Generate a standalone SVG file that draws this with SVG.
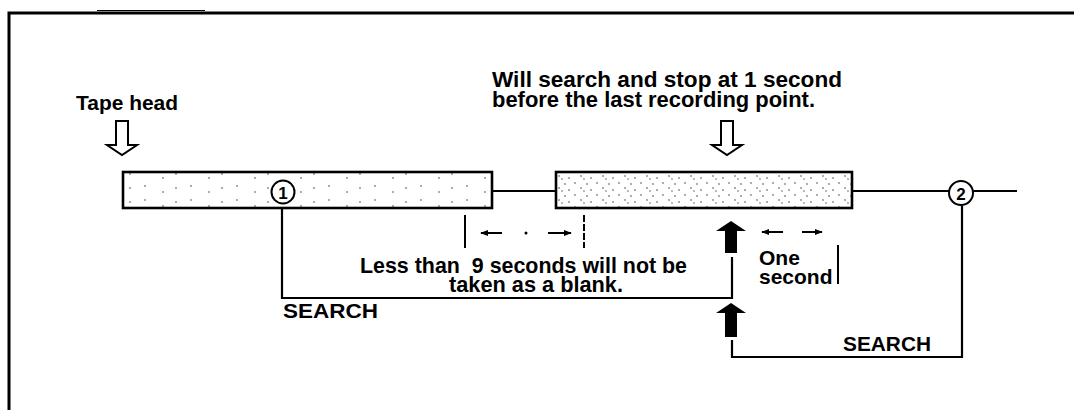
<svg xmlns="http://www.w3.org/2000/svg" width="1074" height="410" viewBox="0 0 1074 410">
  <style>
    .t { font-family: "Liberation Sans", Arial, sans-serif; font-weight: bold; fill: #000; }
    .ln { fill: none; stroke: #000; stroke-width: 2.2; }
    .box { stroke: #000; stroke-width: 2.6; }
    .hollow { fill: #fff; stroke: #000; stroke-width: 2; stroke-linejoin: miter; }
    .solid { fill: #000; stroke: none; }
    .dim { fill: none; stroke: #000; stroke-width: 2; }
  </style>
  <defs>
    <pattern id="dotsA" width="46" height="14" patternUnits="userSpaceOnUse">
      <rect width="46" height="14" fill="#fff"/>
      <circle cx="7" cy="4" r="0.8" fill="#444"/>
      <circle cx="25" cy="10" r="0.8" fill="#444"/>
      <circle cx="38" cy="6" r="0.8" fill="#444"/>
    </pattern>
    <pattern id="dotsB" width="22" height="12" patternUnits="userSpaceOnUse">
      <rect width="22" height="12" fill="#fff"/>
      <circle cx="3" cy="3" r="0.8" fill="#444"/>
      <circle cx="9" cy="8" r="0.8" fill="#444"/>
      <circle cx="15" cy="4" r="0.8" fill="#444"/>
      <circle cx="19" cy="10" r="0.8" fill="#444"/>
      <circle cx="12" cy="11" r="0.7" fill="#444"/>
    </pattern>
    <marker id="ah" viewBox="0 0 10 10" refX="9" refY="5" markerWidth="4" markerHeight="4" orient="auto-start-reverse" markerUnits="strokeWidth">
      <path d="M0,1 L10,5 L0,9 Z" fill="#000"/>
    </marker>
  </defs>

  <!-- frame -->
  <g id="frame">
    <path d="M9,410 V13 H1074" fill="none" stroke="#000" stroke-width="3"/>
    <path d="M97,10.5 H205" stroke="#000" stroke-width="1.2" fill="none"/>
  </g>

  <!-- labels at top -->
  <g id="tape-head">
    <text class="t" x="76" y="110" font-size="21" textLength="102" lengthAdjust="spacingAndGlyphs">Tape head</text>
    <path class="hollow" d="M116,121 H128 V145 H137 L122,155 L107,145 H116 Z"/>
  </g>
  <g id="stop-note">
    <text class="t" x="492" y="87" font-size="22" textLength="350" lengthAdjust="spacingAndGlyphs">Will search and stop at 1 second</text>
    <text class="t" x="492" y="107" font-size="22" textLength="323" lengthAdjust="spacingAndGlyphs">before the last recording point.</text>
    <path class="hollow" d="M721,121 H733 V145 H742 L727,155 L712,145 H721 Z"/>
  </g>

  <!-- connectors -->
  <g id="connectors">
    <path class="ln" d="M492,191 H556"/>
    <path class="ln" d="M852,191 H949"/>
    <path class="ln" d="M973,191 H1017"/>
    <path class="ln" d="M282,204 V298 H732 V257"/>
    <path class="ln" d="M962,206 V357 H732 V340"/>
  </g>

  <!-- recording segment 1 -->
  <g id="segment1">
    <rect class="box" x="123" y="172" width="369" height="36" fill="url(#dotsA)"/>
    <circle cx="283" cy="192" r="11.5" fill="#fff" stroke="#000" stroke-width="2"/>
    <text class="t" x="283" y="198.5" font-size="17" text-anchor="middle">1</text>
  </g>

  <!-- recording segment 2 -->
  <g id="segment2">
    <rect class="box" x="556" y="172" width="296" height="36" fill="url(#dotsB)"/>
  </g>

  <!-- point 2 -->
  <g id="point2">
    <circle cx="961" cy="193" r="12" fill="#fff" stroke="#000" stroke-width="2"/>
    <text class="t" x="961" y="199.5" font-size="17" text-anchor="middle">2</text>
  </g>

  <!-- blank gap dimension -->
  <g id="gap-dimension">
    <path class="dim" d="M465,215 V248"/>
    <path class="dim" d="M584,215 V248" stroke-dasharray="7 2"/>
    <path class="dim" d="M502,233 H481" marker-end="url(#ah)"/>
    <circle cx="526" cy="233" r="1.5" fill="#000"/>
    <path class="dim" d="M548,233 H571" marker-end="url(#ah)"/>
    <text class="t" x="360" y="273" font-size="21.5" xml:space="preserve" textLength="327" lengthAdjust="spacingAndGlyphs">Less than  9 seconds will not be</text>
    <text class="t" x="449" y="292" font-size="21.5" textLength="174" lengthAdjust="spacingAndGlyphs">taken as a blank.</text>
  </g>

  <!-- one second dimension -->
  <g id="one-second">
    <path class="dim" d="M783,232 H762" marker-end="url(#ah)"/>
    <path class="dim" d="M802,232 H822" marker-end="url(#ah)"/>
    <path class="dim" d="M838,245 V284"/>
    <text class="t" x="759" y="265" font-size="21">One</text>
    <text class="t" x="759" y="284" font-size="21">second</text>
  </g>

  <!-- stop arrows -->
  <g id="stop-arrow1">
    <path class="solid" d="M731,221 L746,231 H737 V253 H725 V231 H716 Z"/>
  </g>
  <g id="stop-arrow2">
    <path class="solid" d="M731,303 L746,313 H737 V337 H725 V313 H716 Z"/>
  </g>

  <!-- search labels -->
  <g id="search1">
    <text class="t" x="283" y="318" font-size="21" textLength="95" lengthAdjust="spacingAndGlyphs">SEARCH</text>
  </g>
  <g id="search2">
    <text class="t" x="843" y="351" font-size="21" textLength="88" lengthAdjust="spacingAndGlyphs">SEARCH</text>
  </g>
</svg>
